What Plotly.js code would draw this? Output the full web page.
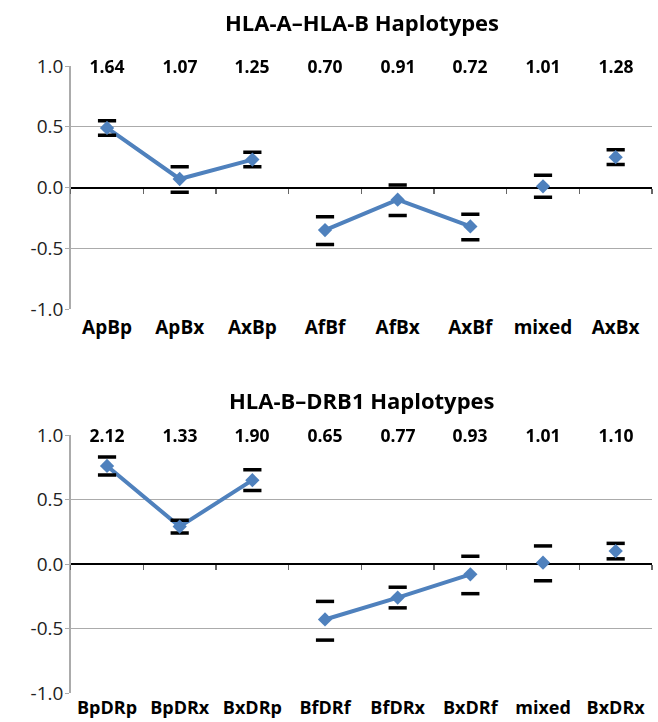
<!DOCTYPE html>
<html>
<head>
<meta charset="utf-8">
<script src="https://cdn.plot.ly/plotly-3.0.1.min.js"></script>
<style>html,body{margin:0;padding:0;background:#fff;}#chart{width:658px;height:722px;}</style>
</head>
<body>
<div id="chart"></div>
<script>
// ---- Data ----
const titleTop = "HLA-A–HLA-B Haplotypes";
const titleBottom = "HLA-B–DRB1 Haplotypes";

const catsTop = ["ApBp", "ApBx", "AxBp", "AfBf", "AfBx", "AxBf", "mixed", "AxBx"];
const ratiosTop = ["1.64", "1.07", "1.25", "0.70", "0.91", "0.72", "1.01", "1.28"];
const valuesTop = [0.49, 0.07, 0.23, -0.35, -0.10, -0.32, 0.01, 0.25];
const upperTop = [0.55, 0.17, 0.29, -0.24, 0.02, -0.22, 0.10, 0.31];
const lowerTop = [0.43, -0.04, 0.17, -0.47, -0.23, -0.43, -0.08, 0.19];
// line groups (segments connected in the reference)
const groupsTop = [[0, 1, 2], [3, 4, 5], [6], [7]];

const catsBottom = ["BpDRp", "BpDRx", "BxDRp", "BfDRf", "BfDRx", "BxDRf", "mixed", "BxDRx"];
const ratiosBottom = ["2.12", "1.33", "1.90", "0.65", "0.77", "0.93", "1.01", "1.10"];
const valuesBottom = [0.76, 0.29, 0.65, -0.43, -0.26, -0.08, 0.01, 0.10];
const upperBottom = [0.83, 0.34, 0.73, -0.29, -0.18, 0.06, 0.14, 0.16];
const lowerBottom = [0.69, 0.24, 0.57, -0.59, -0.34, -0.23, -0.13, 0.04];
const groupsBottom = [[0, 1, 2], [3, 4, 5], [6], [7]];

const yTicks = [-1.0, -0.5, 0.0, 0.5, 1.0];
const yTickText = ["-1.0", "-0.5", "0.0", "0.5", "1.0"];

// ---- Styles ----
const BLUE = "#4F81BD";
const FONT = "Open Sans, Lato, sans-serif";

function seriesWithGaps(cats, vals, groups) {
  const xs = [], ys = [];
  groups.forEach((g, gi) => {
    g.forEach(i => { xs.push(cats[i]); ys.push(vals[i]); });
    if (gi < groups.length - 1) { xs.push(cats[g[g.length - 1]]); ys.push(null); }
  });
  return {xs, ys};
}

function panelTraces(cats, vals, up, lo, groups, xa, xz, ya) {
  const s = seriesWithGaps(cats, vals, groups);
  return [
    {x: cats, y: vals, xaxis: xz, yaxis: ya, mode: "markers", opacity: 0, hoverinfo: "skip", showlegend: false},
    {x: s.xs, y: s.ys, xaxis: xa, yaxis: ya, mode: "lines", connectgaps: false,
     line: {color: BLUE, width: 4}, hoverinfo: "skip", showlegend: false},
    {x: cats, y: up, xaxis: xa, yaxis: ya, mode: "markers",
     marker: {symbol: "line-ew", size: 13, line: {color: "#000", width: 3.5}}, showlegend: false},
    {x: cats, y: lo, xaxis: xa, yaxis: ya, mode: "markers",
     marker: {symbol: "line-ew", size: 13, line: {color: "#000", width: 3.5}}, showlegend: false},
    {x: cats, y: vals, xaxis: xa, yaxis: ya, mode: "markers",
     marker: {symbol: "diamond", size: 11, color: BLUE, line: {width: 0}}, showlegend: false}
  ];
}

const data = [].concat(
  panelTraces(catsTop, valuesTop, upperTop, lowerTop, groupsTop, "x", "x3", "y"),
  panelTraces(catsBottom, valuesBottom, upperBottom, lowerBottom, groupsBottom, "x2", "x4", "y2")
);

const W = 658, H = 722;
const xDom = [70.7 / W, 652 / W];
const yDomTop = [1 - 309 / H, 1 - 66 / H];
const yDomBot = [1 - 693 / H, 1 - 435 / H];

function catAxis(cats, anchor, size, standoff) {
  return {
    type: "category", categoryarray: cats, categoryorder: "array",
    domain: xDom, anchor: anchor, range: [-0.5, cats.length - 0.5],
    showgrid: false, zeroline: false, showline: false, ticks: "",
    tickfont: {family: FONT, size: size, color: "#000", weight: "bold"},
    ticklabelstandoff: standoff, fixedrange: true
  };
}
function zeroAxis(cats, overlay, dom) {
  return {
    type: "category", categoryarray: cats, categoryorder: "array",
    overlaying: overlay, anchor: "free", position: (dom[0] + dom[1]) / 2,
    domain: xDom, range: [-0.5, cats.length - 0.5],
    showgrid: false, zeroline: false, showline: false, showticklabels: false,
    ticks: "outside", tickson: "boundaries", ticklen: 5, tickwidth: 1.2, tickcolor: "#666"
  };
}
function valAxis(anchor, dom) {
  return {
    domain: dom, anchor: anchor, range: [-1, 1], tickmode: "array",
    tickvals: yTicks, ticktext: yTickText,
    showgrid: true, gridcolor: "#ababab", gridwidth: 1.2,
    zeroline: true, zerolinecolor: "#000", zerolinewidth: 2,
    showline: true, linecolor: "#ababab", linewidth: 1.5,
    ticks: "outside", ticklen: 4, tickcolor: "#ababab",
    tickfont: {family: FONT, size: 19, color: "#222"},
    ticklabelstandoff: -2, fixedrange: true
  };
}

function ratioAnns(cats, ratios, xa, ya) {
  return cats.map((c, i) => ({
    x: c, y: 1.0, xref: xa, yref: ya, text: ratios[i], showarrow: false,
    yanchor: "middle", xanchor: "center", bgcolor: "#fff", width: 60, height: 24,
    font: {family: FONT, size: 17.5, color: "#000", weight: "bold"}
  }));
}

const layout = {
  width: W, height: H,
  margin: {l: 0, r: 0, t: 0, b: 0},
  paper_bgcolor: "#fff", plot_bgcolor: "#fff",
  showlegend: false,
  xaxis: catAxis(catsTop, "y", 19, 5),
  xaxis2: catAxis(catsBottom, "y2", 18, 2),
  xaxis3: zeroAxis(catsTop, "x", yDomTop),
  xaxis4: zeroAxis(catsBottom, "x2", yDomBot),
  yaxis: valAxis("x", yDomTop),
  yaxis2: valAxis("x2", yDomBot),
  annotations: [].concat(
    [{text: titleTop, xref: "paper", yref: "paper", x: 362 / W, y: 1 - 22 / H, showarrow: false,
      xanchor: "center", yanchor: "middle", font: {family: FONT, size: 22, color: "#000", weight: "bold"}},
     {text: titleBottom, xref: "paper", yref: "paper", x: 362 / W, y: 1 - 400 / H, showarrow: false,
      xanchor: "center", yanchor: "middle", font: {family: FONT, size: 22, color: "#000", weight: "bold"}}],
    ratioAnns(catsTop, ratiosTop, "x", "y"),
    ratioAnns(catsBottom, ratiosBottom, "x2", "y2")
  )
};

Plotly.newPlot("chart", data, layout, {displayModeBar: false, staticPlot: true});
</script>
</body>
</html>
